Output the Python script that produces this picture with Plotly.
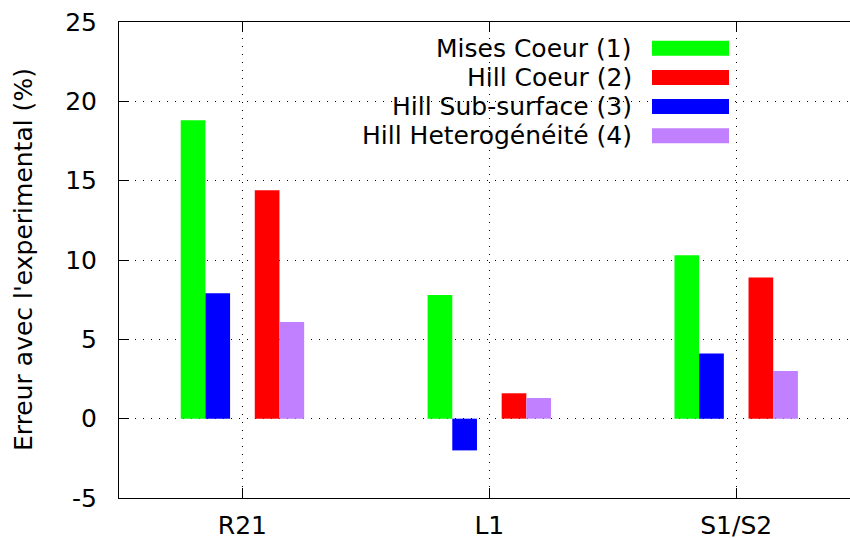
import plotly.graph_objects as go

# Categories and error values (%) per model
categories = ["R21", "L1", "S1/S2"]
mises_coeur = [18.8, 7.8, 10.3]
hill_coeur = [14.4, 1.6, 8.9]
hill_sub_surface = [7.9, -2.0, 4.1]
hill_heterogeneite = [6.1, 1.3, 3.0]

y_tick_values = [-5, 0, 5, 10, 15, 20, 25]
y_tick_labels = ["-5", "0", "5", "10", "15", "20", "25"]

series_names = ["Mises Coeur (1)", "Hill Coeur (2)", "Hill Sub-surface (3)",
                "Hill Heterogénéité (4)"]
series_values = [mises_coeur, hill_coeur, hill_sub_surface, hill_heterogeneite]
series_colors = ["#00ff00", "#ff0000", "#0000ff", "#c080ff"]
# bar offsets within each category group (order on axis: 1, 3, 2, 4)
series_offsets = [-0.25, 0.05, -0.15, 0.15]
BAR_W = 0.1

FONT = "DejaVu Sans"
W, H = 850, 538
ML, MR, MT, MB = 119, 0, 22, 40
PW, PH = W - ML - MR, H - MT - MB


def px_x(x):
    return (x - ML) / PW


def px_y(y):
    return 1 - (y - MT) / PH


fig = go.Figure()
for name, vals, col, off in zip(series_names, series_values, series_colors, series_offsets):
    fig.add_trace(go.Bar(x=categories, y=vals, name=name, marker_color=col,
                         marker_line_width=0, offset=off, width=BAR_W,
                         showlegend=False))

grid_kw = dict(showgrid=True, gridcolor="black", gridwidth=1, griddash="1px,7px")

fig.update_xaxes(type="category", range=[-0.5, 2.461], showline=True,
                 linecolor="black", linewidth=1, mirror="allticks",
                 ticks="inside", ticklen=10, tickcolor="black", tickwidth=1,
                 tickfont=dict(family=FONT, size=25, color="black"),
                 ticklabelstandoff=5, zeroline=False, automargin=False, **grid_kw)
fig.update_yaxes(range=[-5, 25], tickmode="array", tickvals=y_tick_values,
                 ticktext=y_tick_labels, showline=True,
                 linecolor="black", linewidth=1, mirror=False,
                 ticks="inside", ticklen=10, tickcolor="black", tickwidth=1,
                 tickfont=dict(family=FONT, size=25, color="black"),
                 ticklabelstandoff=16, zeroline=False, automargin=False, **grid_kw)

shapes = [
    # opaque key background over the grid
    dict(type="rect", xref="paper", yref="paper", layer="between",
         x0=px_x(231), x1=px_x(743), y0=px_y(150), y1=1,
         fillcolor="white", line_width=0),
]
annotations = []
row_y = [48.3, 77.5, 106.5, 135.7]
for name, col, yc in zip(series_names, series_colors, row_y):
    shapes.append(dict(type="rect", xref="paper", yref="paper",
                       x0=px_x(652), x1=px_x(729), y0=px_y(yc + 7.5), y1=px_y(yc - 7.5),
                       fillcolor=col, line_width=0))
    annotations.append(dict(xref="paper", yref="paper", x=px_x(634), y=px_y(yc),
                            xanchor="right", yanchor="middle", showarrow=False,
                            text=name, font=dict(family=FONT, size=25, color="black")))

annotations.append(dict(xref="paper", yref="paper", x=px_x(23), y=px_y(260),
                        xanchor="center", yanchor="middle", showarrow=False,
                        textangle=-90, text="Erreur avec l'experimental (%)",
                        font=dict(family=FONT, size=25, color="black")))

fig.update_layout(width=W, height=H, margin=dict(l=ML, r=MR, t=MT, b=MB, autoexpand=False),
                  barmode="overlay", plot_bgcolor="white", paper_bgcolor="white",
                  shapes=shapes, annotations=annotations,
                  font=dict(family=FONT, size=25, color="black"))

fig.write_html("out.html")
